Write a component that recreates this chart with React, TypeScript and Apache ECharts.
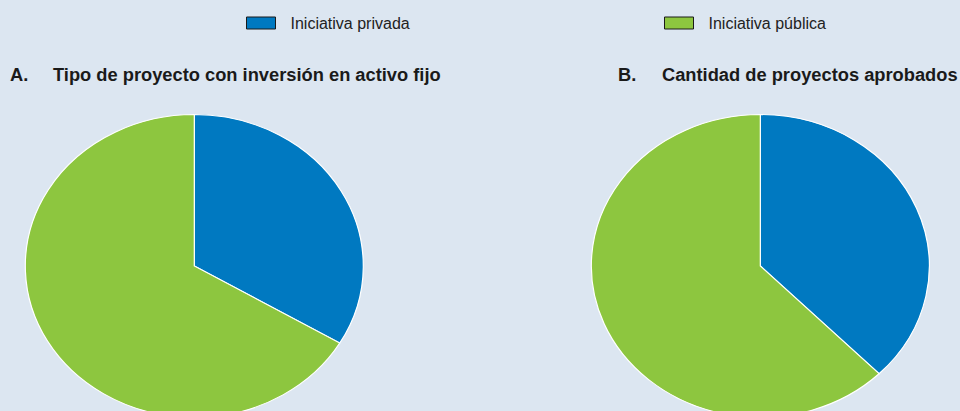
import React, { useEffect, useRef } from "react";
import * as echarts from "echarts";

// ---- data ----
const categories = ["Iniciativa privada", "Iniciativa pública"];
const panelLabels = ["A.", "B."];
const panelTitles = [
  "Tipo de proyecto con inversión en activo fijo",
  "Cantidad de proyectos aprobados",
];
// share (%) per panel [A, B]
const privadaValues = [33.5, 37.6];
const publicaValues = [66.5, 62.4];

const seriesValues = [privadaValues, publicaValues];
const colors = ["#0079c1", "#8dc63f"];

const FONT = "'Liberation Sans', Arial, Helvetica, sans-serif";

export default function App() {
  const ref = useRef<HTMLDivElement>(null);

  useEffect(() => {
    if (!ref.current) return;
    const chart = echarts.init(ref.current, undefined, { renderer: "svg" });

    const centerFrac = [0.2024, 0.792];
    const cyPx = 266;
    const rx = 169;
    const ry = 151.5;

    const renderItem = (params: any, api: any) => {
      const panel = api.value(0);
      const v = api.value(1);
      let total = 0;
      let before = 0;
      for (let k = 0; k < seriesValues.length; k++) {
        total += seriesValues[k][panel];
        if (k < params.seriesIndex) before += seriesValues[k][panel];
      }
      const start = -Math.PI / 2 + (2 * Math.PI * before) / total;
      const end = -Math.PI / 2 + (2 * Math.PI * (before + v)) / total;
      return {
        type: "group",
        x: api.getWidth() * centerFrac[panel],
        y: cyPx,
        scaleY: ry / rx,
        children: [
          {
            type: "sector",
            shape: { cx: 0, cy: 0, r0: 0, r: rx, startAngle: start, endAngle: end, clockwise: true },
            style: { fill: api.visual("color"), stroke: "#ffffff", lineWidth: 1.2 },
          },
        ],
      };
    };

    const titleStyle = { fontFamily: FONT, fontSize: 18.3, fontWeight: "bold" as const, color: "#1a1a1a" };
    const labelLeft = [10, 618];
    const textLeft = [53, 662];
    const titles: any[] = [];
    panelLabels.forEach((lab, i) => {
      titles.push({ text: lab, left: labelLeft[i], top: 65, padding: 0, textStyle: titleStyle });
      titles.push({ text: panelTitles[i], left: textLeft[i], top: 65, padding: 0, textStyle: titleStyle });
    });

    const legendLeft = [246, 664];
    const legends = categories.map((c, i) => ({
      data: [c],
      left: legendLeft[i],
      top: 15,
      padding: 0,
      icon: "rect",
      itemWidth: 29,
      itemHeight: 12,
      itemStyle: { borderColor: "#1a1a1a", borderWidth: 1 },
      textStyle: { fontFamily: FONT, fontSize: 16, color: "#222", padding: [0, 0, 0, 10] },
      selectedMode: false,
    }));

    chart.setOption({
      animation: false,
      backgroundColor: "#dce6f1",
      title: titles,
      legend: legends,
      series: categories.map((c, i) => ({
        type: "custom",
        name: c,
        coordinateSystem: "none",
        itemStyle: { color: colors[i] },
        data: seriesValues[i].map((v, p) => [p, v]),
        renderItem,
      })),
    });

    return () => chart.dispose();
  }, []);

  return (
    <div
      ref={ref}
      style={{ position: "absolute", left: 0, top: 0, width: 960, height: 411 }}
    />
  );
}
